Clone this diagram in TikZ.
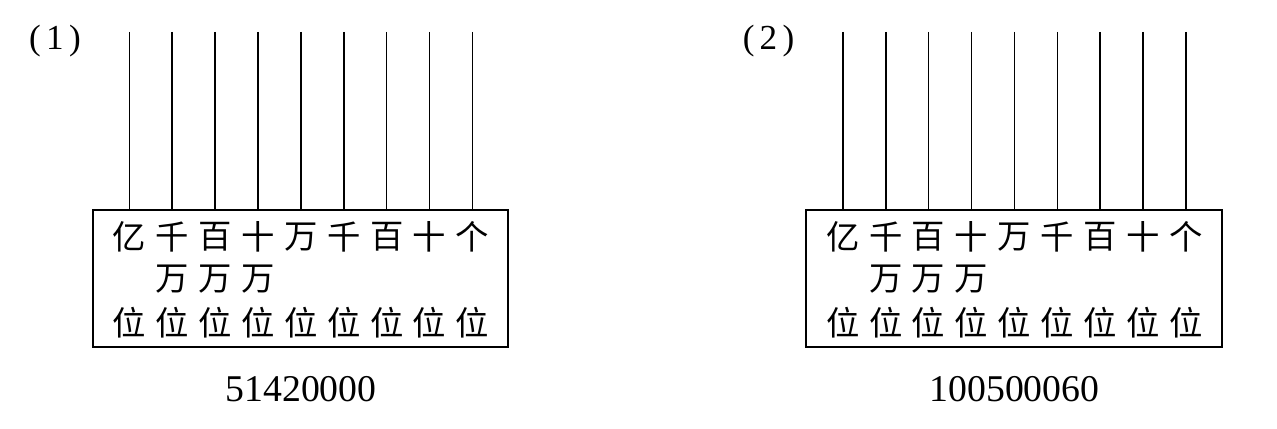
\documentclass[tikz,border=0pt]{standalone}
\usepackage{fontspec}
\setmainfont{Liberation Serif}
\newfontfamily\cjk{Noto Sans CJK SC}
\begin{document}
\begin{tikzpicture}[x=0.02cm, y=-0.02cm,
  rod/.style={line width=0.9pt, black},
  frame/.style={draw, line width=1.1pt, minimum width=8.31cm,
                minimum height=2.74cm, inner sep=0pt},
  place/.style={font=\cjk\fontsize{19}{19}\selectfont, inner sep=0pt},
  numtag/.style={font=\fontsize{21.5}{21.5}\selectfont, inner sep=0pt},
  partlbl/.style={font=\fontsize{20}{20}\selectfont, inner sep=0pt}]
\useasboundingbox (0,0) rectangle (1277,429);

%% two panels, the second shifted right by \dx
\foreach \p/\dx/\num in {1/0/51420000, 2/713.5/100500060} {
  \node[frame] (frame\p) at ({300.5+\dx},278.5) {};
  \node[partlbl] (part\p) at ({55+\dx},41) {(\kern3pt\p\kern3pt)};
  \node[numtag] (num\p) at ({301+\dx},389) {\num};
  % rods and place names, one column per rod
  \foreach \lbl [count=\i] in {亿,千,百,十,万,千,百,十,个} {
    \coordinate (top\p-\i) at ({129.3+42.9*(\i-1)+\dx},32);
    \draw[rod] (top\p-\i) -- (top\p-\i |- frame\p.north);
    \node[place] (hi\p-\i) at ({129.3+42.9*(\i-1)+\dx},237) {\lbl};
    \node[place] (lo\p-\i) at ({129.3+42.9*(\i-1)+\dx},323) {位};
  }
  % middle row only under the 万 places
  \foreach \i in {2,3,4}
    \node[place] (mid\p-\i) at ({129.3+42.9*(\i-1)+\dx},279) {万};
}
\end{tikzpicture}
\end{document}
